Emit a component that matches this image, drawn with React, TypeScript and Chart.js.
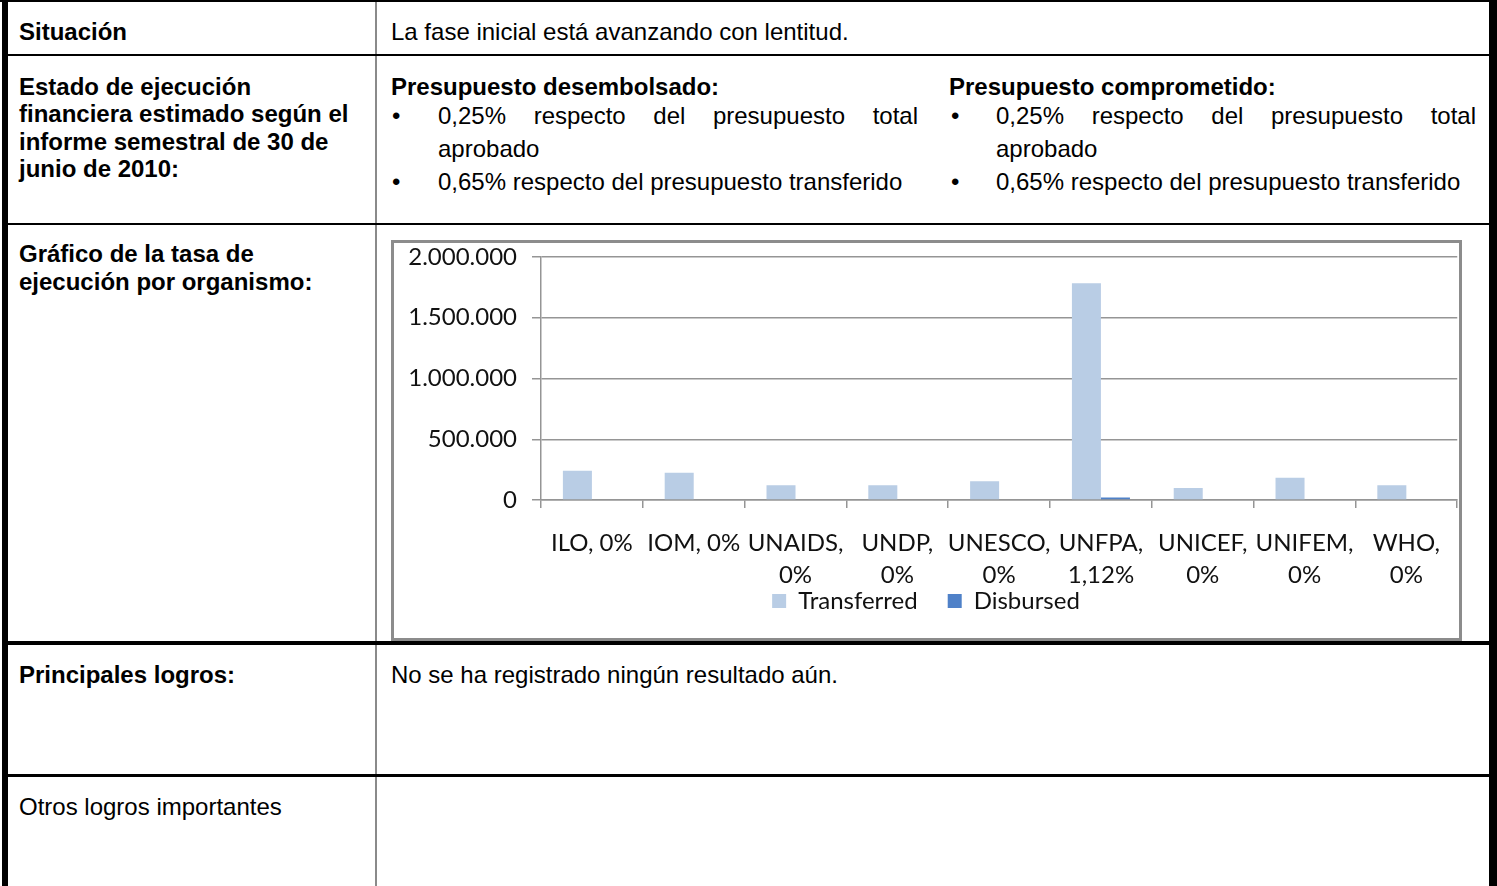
import React, { useEffect, useRef } from "react";
import { Chart, registerables } from "chart.js";

Chart.register(...registerables);

const agencies = ["ILO", "IOM", "UNAIDS", "UNDP", "UNESCO", "UNFPA", "UNICEF", "UNIFEM", "WHO"];
const xTickLabels: string[][] = [
  ["ILO, 0%"],
  ["IOM, 0%"],
  ["UNAIDS,", "0%"],
  ["UNDP,", "0%"],
  ["UNESCO,", "0%"],
  ["UNFPA,", "1,12%"],
  ["UNICEF,", "0%"],
  ["UNIFEM,", "0%"],
  ["WHO,", "0%"],
];
const transferred = [240000, 225000, 121000, 121000, 154000, 1784000, 99000, 184000, 121000];
const disbursed = [0, 0, 0, 0, 0, 20000, 0, 0, 0];
const yTicks = [0, 500000, 1000000, 1500000, 2000000];

const fmt = (v: number) => String(v).replace(/\B(?=(\d{3})+(?!\d))/g, ".");

const legendLift = {
  id: "legendLift",
  afterLayout(chart: any) {
    const lg = chart.legend;
    if (lg) {
      lg.top -= 32;
    }
  },
};

function BarChart() {
  const ref = useRef<HTMLCanvasElement | null>(null);
  useEffect(() => {
    if (!ref.current) return;
    const grey = "#959595";
    const chart = new Chart(ref.current, {
      type: "bar",
      data: {
        labels: xTickLabels,
        datasets: [
          {
            label: "Transferred",
            data: transferred,
            backgroundColor: "#B9CDE5",
            categoryPercentage: 0.57,
            barPercentage: 1,
          },
          {
            label: "Disbursed",
            data: disbursed,
            backgroundColor: "#4F81C8",
            categoryPercentage: 0.57,
            barPercentage: 1,
          },
        ],
      },
      plugins: [legendLift],
      options: {
        animation: false,
        responsive: true,
        maintainAspectRatio: false,
        layout: { padding: { left: 0, right: 1, top: 14, bottom: 0 } },
        font: { family: "Lato", size: 24 },
        plugins: {
          tooltip: { enabled: false },
          legend: {
            position: "bottom",
            maxHeight: 47,
            labels: {
              boxWidth: 14,
              boxHeight: 14,
              padding: 30,
              color: "#111",
              font: { family: "Lato", size: 24 },
            },
          },
        },
        scales: {
          x: {
            afterFit: (s: any) => {
              s.height = 91;
            },
            grid: {
              drawOnChartArea: false,
              drawTicks: true,
              tickLength: 8,
              color: grey,
              lineWidth: 1.5,
              offset: true,
            },
            border: { display: true, color: grey, width: 1.5 },
            ticks: {
              autoSkip: false,
              maxRotation: 0,
              minRotation: 0,
              padding: 19,
              color: "#111",
              font: { family: "Lato", size: 24, lineHeight: 1.333 },
            },
          },
          y: {
            min: 0,
            max: 2000000,
            afterFit: (s: any) => {
              s.width = 147;
              s.paddingTop = 0;
              s.paddingBottom = 0;
            },
            afterBuildTicks: (s: any) => {
              s.ticks = yTicks.map((v) => ({ value: v }));
            },
            grid: { color: grey, lineWidth: 1.5, drawTicks: true, tickLength: 9 },
            border: { display: true, color: grey, width: 1.5 },
            ticks: {
              padding: 15,
              color: "#111",
              font: { family: "Lato", size: 24 },
              callback: (v: any) => fmt(Number(v)),
            },
          },
        },
      } as any,
    });
    return () => chart.destroy();
  }, []);
  return <canvas ref={ref} />;
}

const abs = (l: number, t: number, w: number, h: number, bg: string): React.CSSProperties => ({
  position: "absolute",
  left: l,
  top: t,
  width: w,
  height: h,
  background: bg,
});

export default function App() {
  const text: React.CSSProperties = {
    position: "absolute",
    fontSize: 24,
    lineHeight: "27.6px",
    color: "#000",
    whiteSpace: "nowrap",
  };
  const bold: React.CSSProperties = { ...text, fontWeight: "bold" };
  const bulletStyle = (l: number, t: number): React.CSSProperties => ({
    position: "absolute",
    left: l,
    top: t,
    fontSize: 24,
    lineHeight: "33px",
  });
  const itemStyle = (l: number, t: number): React.CSSProperties => ({
    position: "absolute",
    left: l,
    top: t,
    width: 480,
    fontSize: 24,
    lineHeight: "33px",
    textAlign: "justify",
  });
  return (
    <div
      style={{
        position: "absolute",
        left: 0,
        top: 0,
        width: 1497,
        height: 886,
        overflow: "hidden",
        background: "#fff",
        fontFamily: "'Liberation Sans', Arial, sans-serif",
        color: "#000",
      }}
    >
      {/* column divider */}
      <div style={abs(375, 0, 2, 886, "#8a8a8a")} />
      {/* borders */}
      <div style={abs(0, 0, 1497, 2, "#000")} />
      <div style={abs(2, 0, 6, 886, "#000")} />
      <div style={abs(1489, 0, 8, 886, "#000")} />
      <div style={abs(2, 54, 1495, 2, "#000")} />
      <div style={abs(2, 223, 1495, 2, "#000")} />
      <div style={abs(2, 641, 1495, 4, "#000")} />
      <div style={abs(2, 774, 1495, 3, "#000")} />

      {/* row 1 */}
      <div style={{ ...bold, left: 19, top: 17.5 }}>Situación</div>
      <div style={{ ...text, left: 391, top: 17.5 }}>La fase inicial está avanzando con lentitud.</div>

      {/* row 2 */}
      <div style={{ ...bold, left: 19, top: 72.5 }}>
        Estado de ejecución
        <br />
        financiera estimado según el
        <br />
        informe semestral de 30 de
        <br />
        junio de 2010:
      </div>
      <div style={{ ...bold, left: 391, top: 72.5 }}>Presupuesto desembolsado:</div>
      <div style={bulletStyle(392, 99)}>•</div>
      <div style={itemStyle(438, 99)}>0,25% respecto del presupuesto total aprobado</div>
      <div style={bulletStyle(392, 165)}>•</div>
      <div style={itemStyle(438, 165)}>0,65% respecto del presupuesto transferido</div>

      <div style={{ ...bold, left: 949, top: 72.5 }}>Presupuesto comprometido:</div>
      <div style={bulletStyle(951, 99)}>•</div>
      <div style={itemStyle(996, 99)}>0,25% respecto del presupuesto total aprobado</div>
      <div style={bulletStyle(951, 165)}>•</div>
      <div style={itemStyle(996, 165)}>0,65% respecto del presupuesto transferido</div>

      {/* row 3 */}
      <div style={{ ...bold, left: 19, top: 239.5, lineHeight: "28px" }}>
        Gráfico de la tasa de
        <br />
        ejecución por organismo:
      </div>
      <div
        style={{
          position: "absolute",
          left: 391,
          top: 240,
          width: 1071,
          height: 401,
          border: "3px solid #8c8c8c",
          boxSizing: "border-box",
          background: "#fff",
        }}
      />
      <div style={{ position: "absolute", left: 394, top: 243, width: 1065, height: 395 }}>
        <BarChart />
      </div>

      {/* row 4 */}
      <div style={{ ...bold, left: 19, top: 660.5 }}>Principales logros:</div>
      <div style={{ ...text, left: 391, top: 660.5 }}>No se ha registrado ningún resultado aún.</div>

      {/* row 5 */}
      <div style={{ ...text, left: 19, top: 792.5 }}>Otros logros importantes</div>
    </div>
  );
}
